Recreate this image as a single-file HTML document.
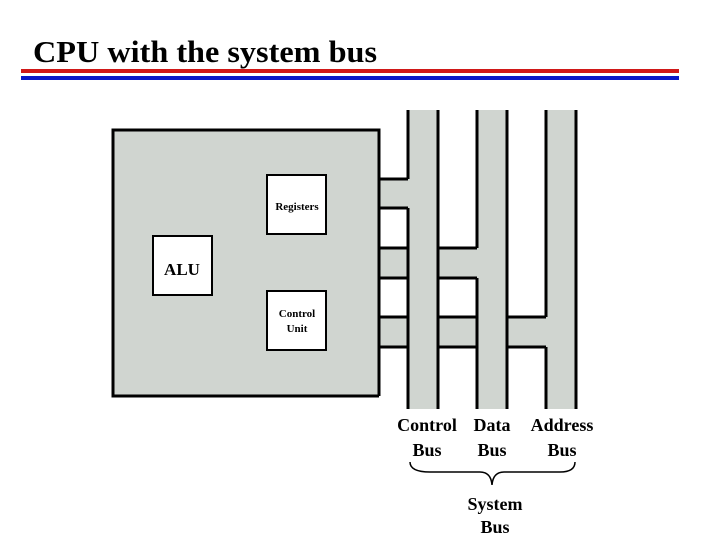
<!DOCTYPE html>
<html><head><style>
html,body{margin:0;padding:0;background:#fff;width:720px;height:540px;overflow:hidden}
</style></head><body>
<svg width="720" height="540" viewBox="0 0 720 540" xmlns="http://www.w3.org/2000/svg">
<text x="33" y="62" font-family="Liberation Serif, serif" font-weight="bold" font-size="31" fill="#000" textLength="344" lengthAdjust="spacingAndGlyphs">CPU with the system bus</text>
<rect x="21" y="69" width="658" height="4" fill="#d01818"/>
<rect x="21" y="76" width="658" height="4" fill="#0a18c8"/>
<g fill="#d0d5d0">
<rect x="113" y="130" width="266" height="266"/>
<rect x="408" y="110" width="30" height="299"/>
<rect x="477" y="110" width="30" height="299"/>
<rect x="546" y="110" width="30" height="299"/>
<rect x="379" y="179" width="29" height="29"/>
<rect x="379" y="248" width="98" height="30"/>
<rect x="379" y="317" width="167" height="30"/>
</g>
<g stroke="#000" stroke-width="3" fill="none">
<polyline points="379,396 113,396 113,130 379,130 379,396"/>
<line x1="408" y1="110" x2="408" y2="179"/>
<line x1="408" y1="208" x2="408" y2="409"/>
<line x1="438" y1="110" x2="438" y2="409"/>
<line x1="477" y1="110" x2="477" y2="248"/>
<line x1="477" y1="278" x2="477" y2="409"/>
<line x1="507" y1="110" x2="507" y2="409"/>
<line x1="546" y1="110" x2="546" y2="317"/>
<line x1="546" y1="347" x2="546" y2="409"/>
<line x1="576" y1="110" x2="576" y2="409"/>
<line x1="379" y1="179" x2="408" y2="179"/>
<line x1="379" y1="208" x2="408" y2="208"/>
<line x1="379" y1="248" x2="408" y2="248"/>
<line x1="438" y1="248" x2="477" y2="248"/>
<line x1="379" y1="278" x2="408" y2="278"/>
<line x1="438" y1="278" x2="477" y2="278"/>
<line x1="379" y1="317" x2="408" y2="317"/>
<line x1="438" y1="317" x2="477" y2="317"/>
<line x1="507" y1="317" x2="546" y2="317"/>
<line x1="379" y1="347" x2="408" y2="347"/>
<line x1="438" y1="347" x2="477" y2="347"/>
<line x1="507" y1="347" x2="546" y2="347"/>
</g>
<g stroke="#000" stroke-width="2" fill="#fff">
<rect x="267" y="175" width="59" height="59"/>
<rect x="153" y="236" width="59" height="59"/>
<rect x="267" y="291" width="59" height="59"/>
</g>
<g font-family="Liberation Serif, serif" font-weight="bold" fill="#000" text-anchor="middle">
<text x="297" y="210" font-size="11">Registers</text>
<text x="182" y="275" font-size="17">ALU</text>
<text x="297" y="317" font-size="11">Control</text>
<text x="297" y="332" font-size="11">Unit</text>
<text x="427" y="431" font-size="18">Control</text>
<text x="427" y="456" font-size="18">Bus</text>
<text x="492" y="431" font-size="18">Data</text>
<text x="492" y="456" font-size="18">Bus</text>
<text x="562" y="431" font-size="18">Address</text>
<text x="562" y="456" font-size="18">Bus</text>
<text x="495" y="510" font-size="18">System</text>
<text x="495" y="533" font-size="18">Bus</text>
</g>
<path d="M410,462 Q410,472 430,472 L480,472 Q491,472 492,485 Q493,472 504,472 L560,472 Q575,472 575,462" stroke="#000" stroke-width="1.5" fill="none"/>
</svg>
</body></html>
